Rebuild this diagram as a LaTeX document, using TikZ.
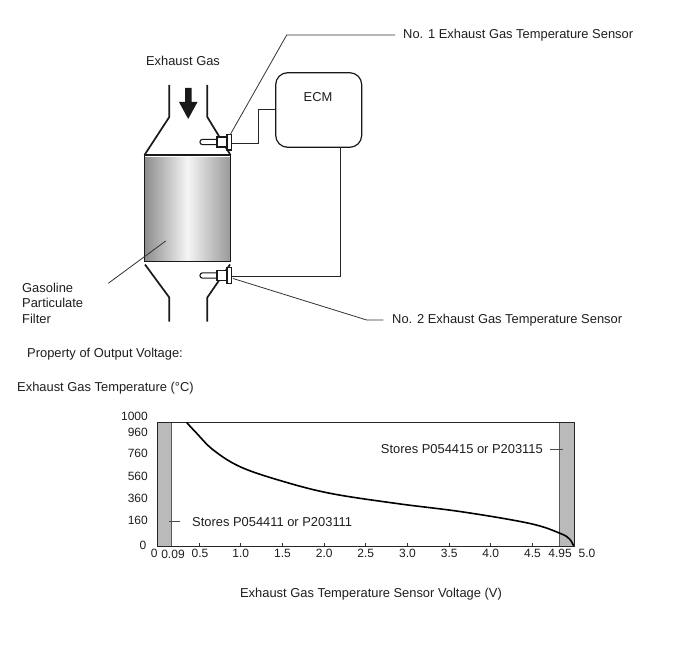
\documentclass[tikz,border=0pt]{standalone}
\usepackage{fontspec}
\setmainfont{Liberation Sans}
\begin{document}
\begin{tikzpicture}[x=1pt,y=-1pt,
  txt/.style={font=\fontsize{12.9}{15.5}\selectfont, text=black!88, inner sep=0pt},
  pipe/.style={line width=1.7pt, black!90},
  wire/.style={line width=1pt, black!85},
  lead/.style={line width=0.8pt, black!80},
  tick/.style={txt, font=\fontsize{12}{14}\selectfont},
  sensorpart/.style={draw=black!90, line width=1.1pt, fill=white},
  sensor/.pic={
    \draw[sensorpart, rounded corners=2.4pt] (-17,-2.6) rectangle (2,2.6);
    \draw[sensorpart] (0,-5) rectangle (10,5);
    \draw[sensorpart] (10,-7.8) rectangle (14.8,8);
  }]
\useasboundingbox (0,0) rectangle (688,658);
\fill[white] (0,0) rectangle (688,658);

% --- exhaust pipe and filter ---
\node[txt] (gas) at (183,60.5) {Exhaust Gas};
\fill[black!90] (185,88) -- (191.5,88) -- (191.5,102) -- (197.5,102) -- (188.2,119) -- (179,102) -- (185,102) -- cycle;
\node[inner sep=0pt] (arrow) at (188.2,103) {};

\draw[pipe] (169.3,85) -- (169.3,117) -- (144.5,155);
\draw[pipe] (207.3,85) -- (207.3,117) -- (230.5,155);
\shade[left color=black!45, right color=black!40, middle color=black!4, shading angle=90]
  (144.5,157.5) rectangle (230.5,260.5);
\draw[line width=1.2pt, black!90] (144.5,155) rectangle (230.5,261.5);
\node[inner sep=0pt] (gpf) at (187.5,208) {};
\draw[pipe] (145,264.5) -- (169.3,297.5) -- (169.3,321.5);
\draw[pipe] (230,264.5) -- (207.3,297.5) -- (207.3,321.5);

% --- sensors ---
\pic at (217,142) {sensor};
\pic at (217,275.5) {sensor};
\coordinate (s1w) at (231.8,143.3);
\coordinate (s1t) at (230,135);
\coordinate (s2w) at (231.8,276.3);
\coordinate (s2t) at (233,278.5);

% --- ECM ---
\node[draw=black!90, line width=1.2pt, rounded corners=12pt, minimum width=86pt,
      minimum height=74.6pt, inner sep=0pt] (ecm) at (318.7,110) {};
\node[txt] (ecmlabel) at (318,97.5) {ECM};
\coordinate (w1a) at (258.3,143.3);
\coordinate (w1b) at (258.3,109.3);
\draw[wire] (s1w) -- (w1a) -- (w1b) -- (w1b -| ecm.west);
\coordinate (w2a) at (340,147.3);
\coordinate (w2b) at (340,276.3);
\draw[wire] (w2a) -- (w2b) -- (s2w);

% --- labels with leaders ---
\node[txt, anchor=west] (lab1) at (403,35.5) {No. 1 Exhaust Gas Temperature Sensor};
\coordinate (k1) at (286.7,35);
\draw[lead] (s1t) -- (k1) -- (395,35);
\node[txt, anchor=west] (lab2) at (392,320.5) {No. 2 Exhaust Gas Temperature Sensor};
\coordinate (k2) at (366.7,320);
\draw[lead] (s2t) -- (k2) -- (383.3,320);

\node[txt, anchor=west, align=left] (gpflab) at (22,303) {Gasoline\\Particulate\\Filter};
\coordinate (g1) at (165.7,241);
\coordinate (g2) at (108.3,283.3);
\draw[lead] (g1) -- (g2);

% --- chart ---
\node[txt, anchor=west] (prop) at (27,354) {Property of Output Voltage:};
\node[txt, anchor=west] (ylab) at (17,388.5) {Exhaust Gas Temperature (°C)};
\node[txt] (xlab) at (371,594.5) {Exhaust Gas Temperature Sensor Voltage (V)};

\fill[black!27] (157.5,422.5) rectangle (171.5,546);
\fill[black!27] (559.5,422.5) rectangle (574,546);
\draw[line width=1.2pt, black!65] (171.5,422.5) -- (171.5,546);
\draw[line width=1.2pt, black!65] (559.5,422.5) -- (559.5,546);
\draw[line width=1pt, black!85] (157.5,422.5) rectangle (574,546);

\foreach \xx in {199.2,240.8,282.5,324.2,365.8,407.5,449.2,490.8,532.5}
  \draw[line width=0.8pt, black!80] (\xx,546) -- (\xx,543);

\draw[line width=1.6pt, black] plot[smooth, tension=0.6] coordinates {
  (186.7,422.5) (196.7,433.3) (213.3,450) (240,466.7) (280,480.5) (330,493.3)
  (396.7,503.5) (463.3,512) (530,523.5) (560,533.3) (569.5,539) (573.5,545.7)};

\node[tick, anchor=east] (y1000) at (148,416) {1000};
\node[tick, anchor=east] (y960) at (148,432.5) {960};
\node[tick, anchor=east] (y760) at (148,453.5) {760};
\node[tick, anchor=east] (y560) at (148,476) {560};
\node[tick, anchor=east] (y360) at (148,498.3) {360};
\node[tick, anchor=east] (y160) at (148,520.7) {160};
\node[tick, anchor=east] (y0) at (146.5,545) {0};

\node[tick] (x0) at (154.3,553.5) {0};
\node[tick] (x009) at (173,554.5) {0.09};
\node[tick] (x05) at (200,553) {0.5};
\foreach \xx/\lab in {240.8/1.0,282.5/1.5,324.2/2.0,365.8/2.5,407.5/3.0,449.2/3.5,490.8/4.0,532.5/4.5}
  \node[tick] at (\xx,553.5) {\lab};
\node[tick] (x495) at (560,553.5) {4.95};
\node[tick] (x50) at (587,553.5) {5.0};

\node[txt, anchor=east] (st15) at (543,449.5) {Stores P054415 or P203115};
\coordinate (d1a) at (550,449);
\coordinate (d1b) at (563,449);
\draw[line width=1pt, black!70] (d1a) -- (d1b);
\node[txt, anchor=west] (st11) at (192,522.5) {Stores P054411 or P203111};
\coordinate (d2a) at (169,521);
\coordinate (d2b) at (180,521);
\draw[line width=1pt, black!70] (d2a) -- (d2b);
\end{tikzpicture}
\end{document}
